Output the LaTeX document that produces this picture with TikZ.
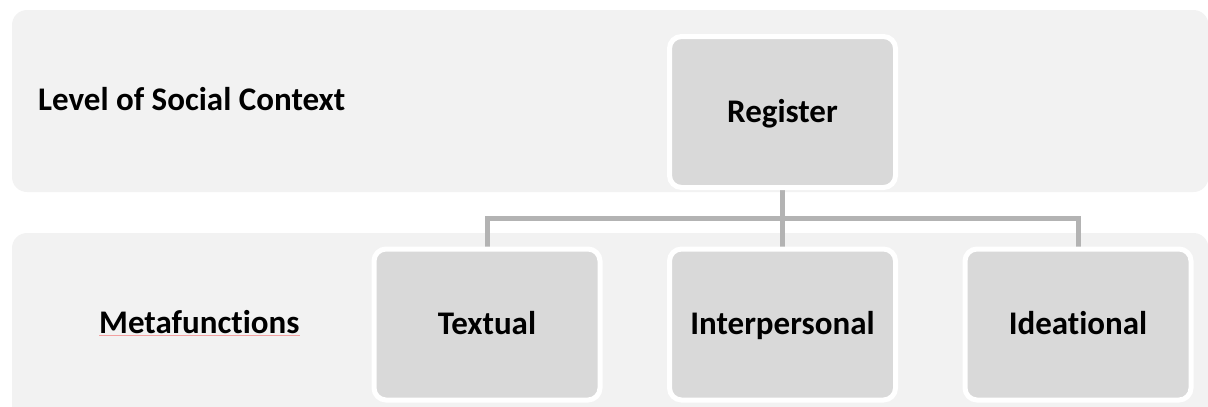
\documentclass[tikz,border=0pt]{standalone}
\usepackage{fontspec}
\setmainfont[Ligatures=NoCommon]{Carlito}
\usetikzlibrary{calc}
\pgfdeclarelayer{bands}
\pgfdeclarelayer{links}
\pgfsetlayers{bands,links,main}
\definecolor{bandgray}{HTML}{F2F2F2}
\definecolor{boxgray}{HTML}{D9D9D9}
\definecolor{linkgray}{HTML}{B3B3B3}
\definecolor{spellred}{HTML}{F3A0A0}
\newcommand{\labelfont}{\bfseries\fontsize{33}{40}\selectfont}
\tikzset{
  band/.style={fill=bandgray, draw=none, rounded corners=15pt},
  levelbox/.style={fill=boxgray, draw=white, line width=5pt, rounded corners=12pt,
    minimum width=226pt, minimum height=151pt, inner sep=0pt, outer sep=2.5pt,
    text height=27pt, text depth=7pt, font=\labelfont},
  bandlabel/.style={inner sep=0pt, font=\labelfont},
  link/.style={draw=linkgray, line width=5pt}
}
\begin{document}
\begin{tikzpicture}[x=1pt, y=-1pt]
\useasboundingbox (0,0) rectangle (1208,407);

% the two horizontal bands
\begin{pgfonlayer}{bands}
  \path[band] (12,10) rectangle (1208.5,192);
  \path[band] (12,233) rectangle (1208.5,425);
\end{pgfonlayer}

% band labels
\node[bandlabel, anchor=base west] (social) at (38,110) {Level of Social Context};
\node[bandlabel, anchor=base west] (meta) at (99,333) {Metafunctions};
\draw[spellred, line width=1.2pt] ([yshift=-2.5pt]meta.base west) -- ([yshift=-2.5pt]meta.base east);

% boxes
\node[levelbox] (reg) at (782.5,112) {Register};
\node[levelbox] (txt) at (487,324.5) {Textual};
\node[levelbox] (inter) at (782.5,324.5) {Interpersonal};
\node[levelbox] (idea) at (1078,324.5) {Ideational};

% tree connectors
\coordinate (bar) at ($(reg.south)!0.5!(inter.north)$);
\begin{pgfonlayer}{links}
  \draw[link] (reg.south) -- (inter.north);
  \draw[link] (txt.north) |- (bar) -| (idea.north);
\end{pgfonlayer}
\end{tikzpicture}
\end{document}
